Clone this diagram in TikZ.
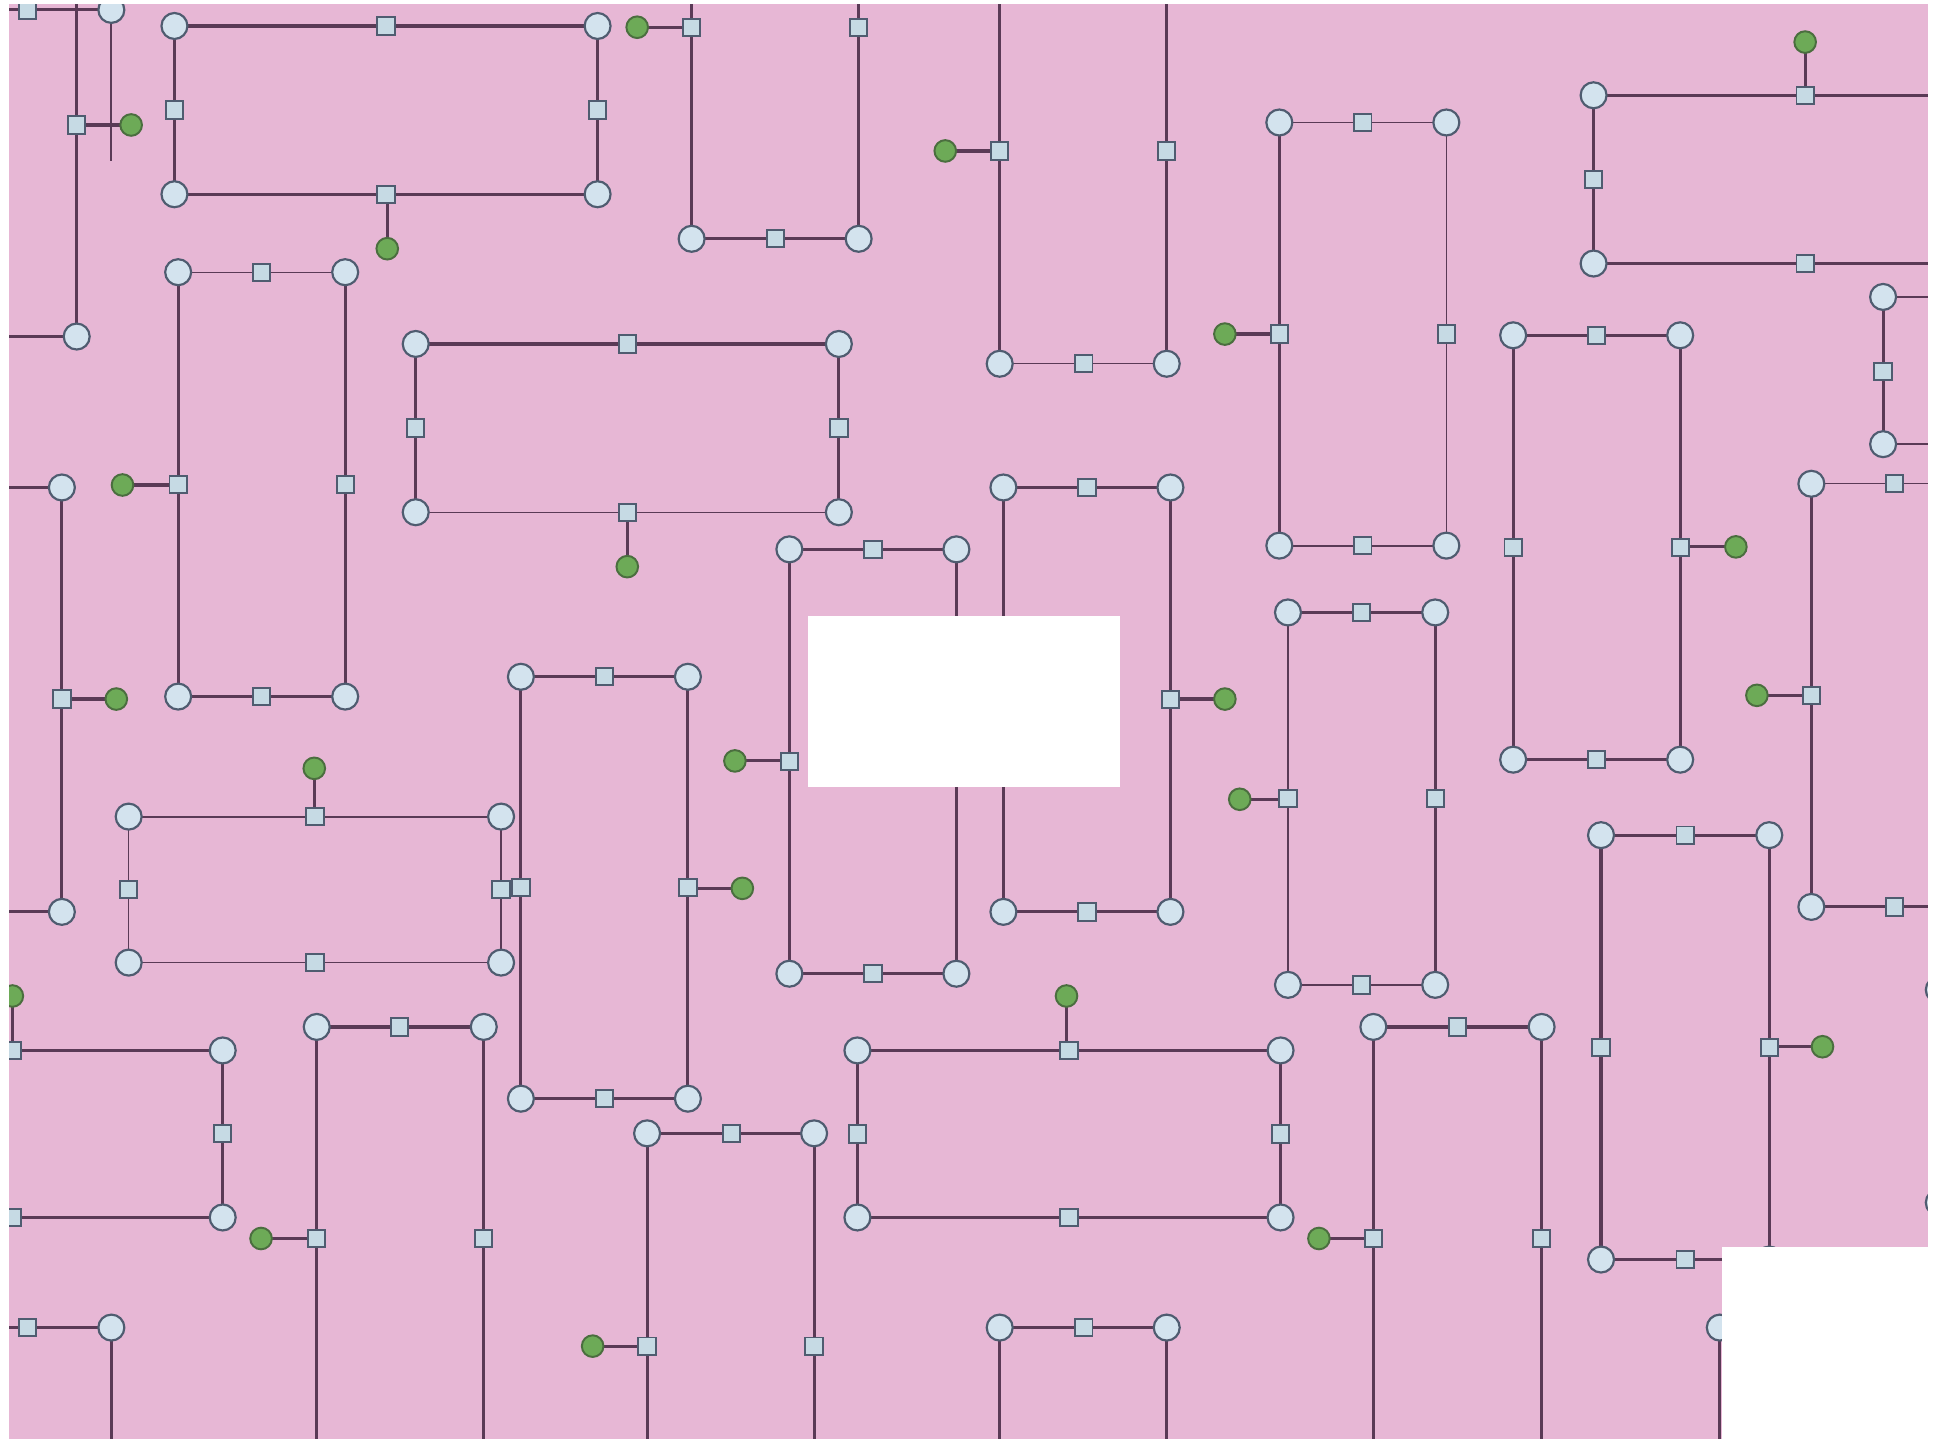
\documentclass[tikz,border=0pt]{standalone}
\usepackage{xcolor}
\definecolor{bg}{HTML}{E7B7D5}
\definecolor{lnc}{HTML}{5A3A56}
\definecolor{cfill}{HTML}{D3E3EE}
\definecolor{sfill}{HTML}{C6DAE4}
\definecolor{hdraw}{HTML}{4F5C70}
\definecolor{gfill}{HTML}{6DAA57}
\definecolor{gdraw}{HTML}{4B6E3F}
\newcommand\fullfr[8]{%
 \pgfmathsetmacro\mx{(#1+#3)/2}\pgfmathsetmacro\my{(#2+#4)/2}%
 \draw[#5] (#1,#2)--(#3,#2);
 \draw[#6] (#1,#4)--(#3,#4);
 \draw[#7] (#1,#2)--(#1,#4);
 \draw[#8] (#3,#2)--(#3,#4);
 \node[hc] at (#1,#2) {}; \node[hc] at (#3,#2) {};
 \node[hc] at (#1,#4) {}; \node[hc] at (#3,#4) {};
 \node[hs] at (\mx,#2) {}; \node[hs] at (\mx,#4) {};
 \node[hs] at (#1,\my) {}; \node[hs] at (#3,\my) {};
}
\newcommand\gh[4]{\draw[tk] (#1,#2)--(#3,#4); \node[hg] at (#1,#2) {};}
\newcommand\hcn[2]{\node[hc] at (#1,#2) {};}
\newcommand\hsq[2]{\node[hs] at (#1,#2) {};}
\begin{document}
\begin{tikzpicture}[x=0.02cm,y=-0.02cm,
 tk/.style={draw=lnc,line width=1.45pt},
 tm/.style={draw=lnc,line width=1pt},
 tn/.style={draw=lnc,line width=0.6pt},
 hc/.style={circle,draw=hdraw,line width=1pt,fill=cfill,minimum size=0.42cm,inner sep=0pt},
 hs/.style={rectangle,draw=hdraw,line width=0.9pt,fill=sfill,minimum size=0.28cm,inner sep=0pt},
 hg/.style={circle,draw=gdraw,line width=0.9pt,fill=gfill,minimum size=0.35cm,inner sep=0pt}]
\useasboundingbox (0,0) rectangle (1568,1163);
\fill[white] (0,0) rectangle (1568,1163);
\fill[bg] (7,3) rectangle (1558,1163);

% A
\draw[tk] (0,8)--(90,8);
\draw[tk] (62,0)--(62,272);
\draw[tk] (0,272)--(62,272);
\draw[tm] (90,8)--(90,130);
\gh{106}{101}{62}{101}
\hsq{22}{8} \hcn{90}{8} \hcn{62}{272} \hsq{62}{101}

% B
\gh{313}{201}{313}{157}
\fullfr{141}{21}{483}{157}{tk}{tk}{tk}{tk}

% C
\draw[tk] (559,0)--(559,193) (694,0)--(694,193) (559,193)--(694,193);
\gh{515}{22}{559}{22}
\hcn{559}{193} \hcn{694}{193} \hsq{627}{193} \hsq{559}{22} \hsq{694}{22}

% D
\draw[tk] (808,0)--(808,294) (943,0)--(943,294);
\draw[tn] (808,294)--(943,294);
\gh{764}{122}{808}{122}
\hcn{808}{294} \hcn{943}{294} \hsq{876}{294} \hsq{808}{122} \hsq{943}{122}

% E
\gh{990}{270}{1034}{270}
\fullfr{1034}{99}{1169}{441}{tn}{tm}{tk}{tn}

% F
\draw[tk] (1288,77)--(1568,77) (1288,213)--(1568,213) (1288,77)--(1288,213);
\gh{1459}{34}{1459}{77}
\hcn{1288}{77} \hcn{1288}{213} \hsq{1288}{145} \hsq{1459}{77} \hsq{1459}{213}

% G
\draw[tm] (1522,240)--(1568,240) (1522,359)--(1568,359);
\draw[tk] (1522,240)--(1522,359);
\hcn{1522}{240} \hcn{1522}{359} \hsq{1522}{300}

% H
\gh{99}{392}{144}{392}
\fullfr{144}{220}{279}{563}{tn}{tk}{tk}{tk}

% I
\draw[tk] (0,394)--(50,394)--(50,737)--(0,737);
\gh{94}{565}{50}{565}
\hcn{50}{394} \hcn{50}{737} \hsq{50}{565}

% J
\gh{507}{458}{507}{414}
\fullfr{336}{278}{678}{414}{tk}{tn}{tk}{tk}

% K
\gh{594}{615}{638}{615}
\fullfr{638}{444}{773}{787}{tk}{tk}{tk}{tk}

% L
\gh{990}{565}{946}{565}
\fullfr{811}{394}{946}{737}{tk}{tk}{tk}{tk}

% M
\gh{600}{718}{556}{718}
\fullfr{421}{547}{556}{888}{tk}{tk}{tk}{tk}

% N
\gh{254}{621}{254}{660}
\fullfr{104}{660}{405}{778}{tm}{tn}{tn}{tm}

% O
\gh{1002}{646}{1041}{646}
\fullfr{1041}{495}{1160}{796}{tm}{tm}{tn}{tk}

% P
\gh{1403}{442}{1358}{442}
\fullfr{1223}{271}{1358}{614}{tk}{tk}{tk}{tk}

% Q
\draw[tn] (1464,391)--(1568,391);
\draw[tk] (1464,391)--(1464,733)--(1568,733);
\gh{1420}{562}{1464}{562}
\hcn{1464}{391} \hcn{1464}{733} \hsq{1531}{391} \hsq{1531}{733} \hsq{1464}{562}

% R
\gh{1473}{846}{1430}{846}
\fullfr{1294}{675}{1430}{1018}{tk}{tk}{tk}{tk}

% right edge partial circles
\hcn{1567}{800} \hcn{1567}{972}

% S
\draw[tk] (0,849)--(180,849)--(180,984)--(0,984);
\gh{10}{805}{10}{849}
\hcn{180}{849} \hcn{180}{984} \hsq{180}{916} \hsq{10}{849} \hsq{10}{984}

% T
\draw[tk] (256,1163)--(256,830)--(391,830)--(391,1163);
\gh{211}{1001}{256}{1001}
\hcn{256}{830} \hcn{391}{830} \hsq{323}{830} \hsq{256}{1001} \hsq{391}{1001}

% U
\draw[tk] (0,1073)--(90,1073)--(90,1163);
\hsq{22}{1073} \hcn{90}{1073}

% V
\draw[tk] (523,1163)--(523,916)--(658,916)--(658,1163);
\gh{479}{1088}{523}{1088}
\hcn{523}{916} \hcn{658}{916} \hsq{591}{916} \hsq{523}{1088} \hsq{658}{1088}

% W
\gh{862}{805}{862}{849}
\fullfr{693}{849}{1035}{984}{tk}{tk}{tk}{tk}

% X
\draw[tk] (1110,1163)--(1110,830)--(1246,830)--(1246,1163);
\gh{1066}{1001}{1110}{1001}
\hcn{1110}{830} \hcn{1246}{830} \hsq{1178}{830} \hsq{1110}{1001} \hsq{1246}{1001}

% Y
\draw[tk] (808,1163)--(808,1073)--(943,1073)--(943,1163);
\hcn{808}{1073} \hcn{943}{1073} \hsq{876}{1073}

% partial circle near bottom-right blank
\draw[tk] (1390,1073)--(1390,1163);
\hcn{1390}{1073}

% white overlays
\fill[white] (653,498) rectangle (905,636);
\fill[white] (1392,1008) rectangle (1568,1163);
\fill[white] (1558,0) rectangle (1568,1163);
\fill[white] (0,0) rectangle (7,1163);
\fill[white] (0,0) rectangle (1568,3);
\end{tikzpicture}
\end{document}
